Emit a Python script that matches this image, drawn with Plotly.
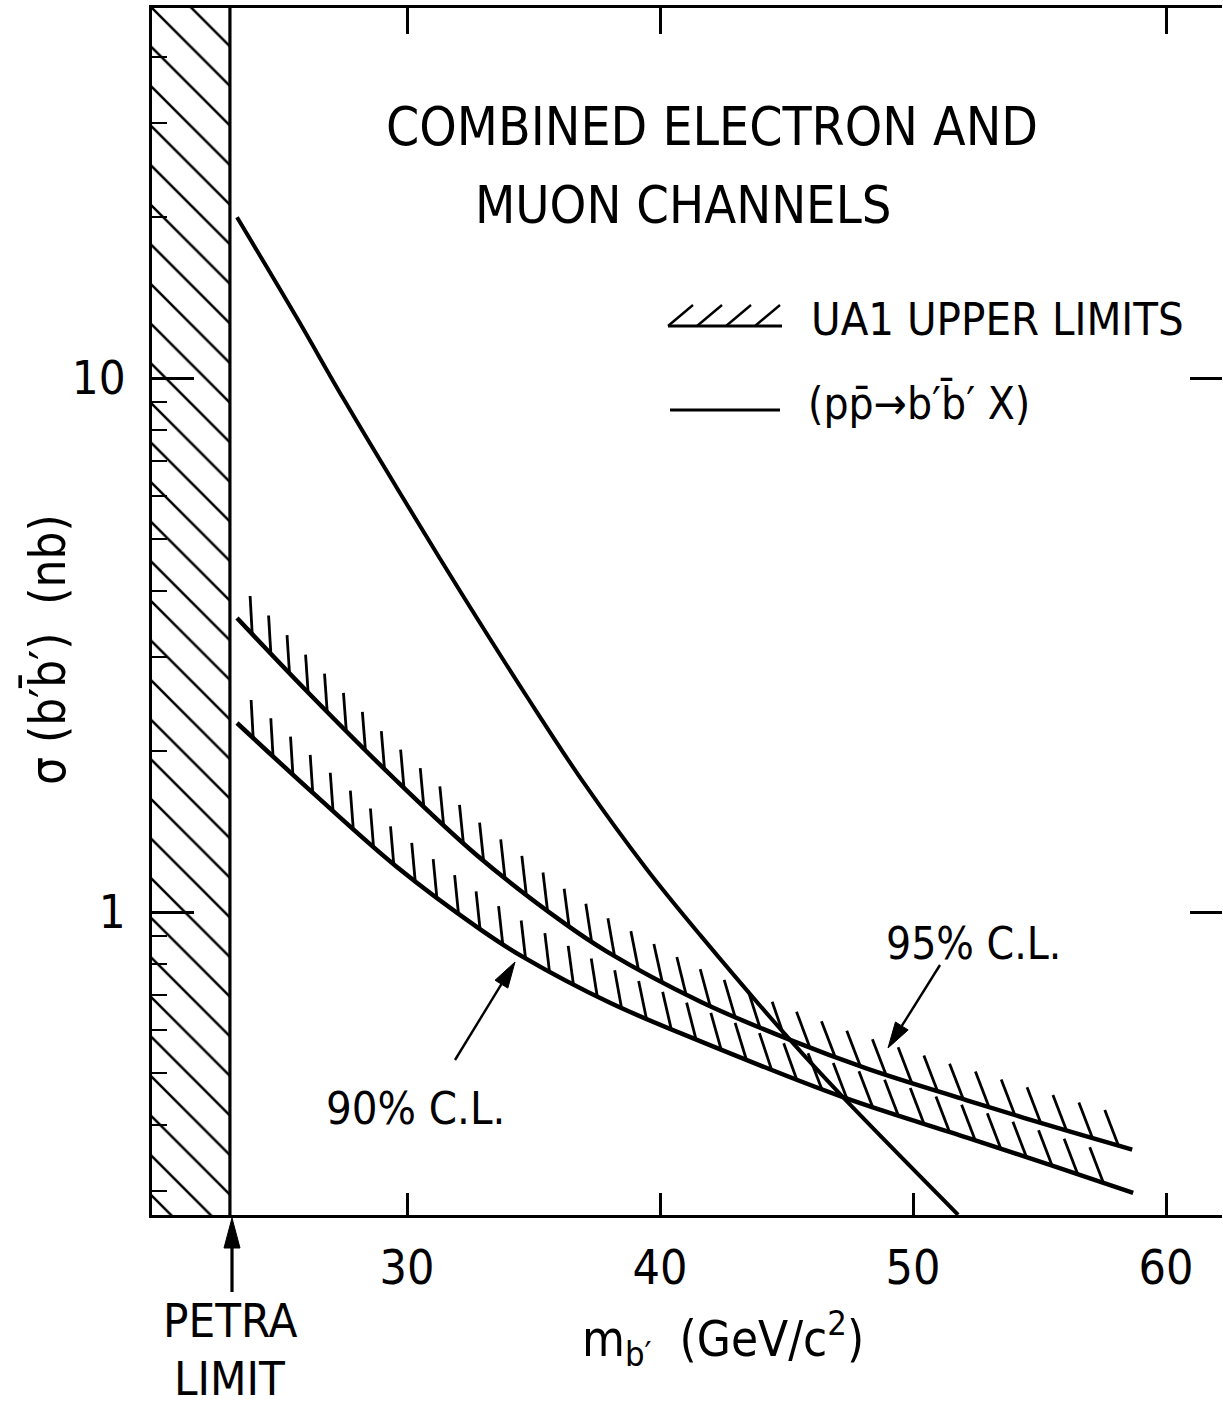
import numpy as np
import plotly.graph_objects as go

# ---------------- data ----------------
mass_theory = [23.28, 25.65, 27.47, 29.72, 32.21, 34.74, 36.96, 39.49, 41.58, 45.14, 47.23, 51.78]
sigma_theory = [20.0, 12.95, 9.17, 6.09, 3.91, 2.53, 1.752, 1.20, 0.906, 0.576, 0.450, 0.271]

mass_95 = [23.28, 26.05, 29.45, 32.77, 36.17, 37.90, 41.58, 45.14, 48.18, 52.13, 55.41, 58.66]
sigma_95 = [3.553, 2.588, 1.786, 1.276, 0.956, 0.843, 0.680, 0.576, 0.509, 0.444, 0.398, 0.359]

mass_90 = [23.28, 26.28, 29.60, 32.88, 34.58, 38.02, 41.58, 47.23, 52.13, 55.41, 58.70]
sigma_90 = [2.259, 1.671, 1.214, 0.929, 0.824, 0.676, 0.573, 0.450, 0.378, 0.336, 0.298]

petra_limit = 23.0
x_ticks = [30, 40, 50, 60]
x_ticks_top = [30, 40, 60]
y_ticks = [1, 10]

# ---------------- layout geometry ----------------
W, H = 1223, 1414
PL, PR, PT, PB = 152, 1222, 8, 1215
XR = [19.92, 62.21]
YR = [-0.5674, 1.6929]
PXU = (PR - PL) / (XR[1] - XR[0])
PXD = (PB - PT) / (YR[1] - YR[0])
FONT = "DejaVu Sans Condensed, Liberation Sans Narrow, DejaVu Sans, sans-serif"


def to_px(m, s):
    return PL + (np.asarray(m) - XR[0]) * PXU, PB - (np.log10(s) - YR[0]) * PXD


def from_px(px, py):
    return XR[0] + (px - PL) / PXU, 10 ** (YR[0] + (PB - py) / PXD)


def paper(px, py):
    return (px - PL) / (PR - PL), (PB - py) / (PB - PT)


def hatches(ms, ss, spacing=27.0, length=38.0, start=22.0, trim=6.0):
    m = np.linspace(ms[0], ms[-1], 3000)
    ls = np.interp(m, ms, np.log10(ss))
    px, py = to_px(m, 10 ** ls)
    arc = np.concatenate([[0], np.cumsum(np.hypot(np.diff(px), np.diff(py)))])
    xs, ys = [], []
    for t in np.arange(start, arc[-1] - trim, spacing):
        x0 = np.interp(t, arc, px)
        y0 = np.interp(t, arc, py)
        lean = np.radians(np.interp(x0, [240, 560, 820], [3, 7, 21]))
        x1 = x0 - length * np.sin(lean)
        y1 = y0 - length * np.cos(lean)
        a = from_px(x0, y0)
        b = from_px(x1, y1)
        xs += [a[0], b[0], None]
        ys += [a[1], b[1], None]
    return xs, ys


ymin, ymax = 10 ** YR[0], 10 ** YR[1]

fig = go.Figure()

# PETRA excluded region
fig.add_trace(go.Scatter(
    x=[XR[0] - 1, petra_limit, petra_limit, XR[0] - 1, XR[0] - 1],
    y=[ymin * 0.8, ymin * 0.8, ymax * 1.2, ymax * 1.2, ymin * 0.8],
    fill="toself", mode="lines", line=dict(width=0, color="black"),
    fillcolor="white",
    fillpattern=dict(shape="\\", size=28, solidity=0.09, fgcolor="black", bgcolor="white",
                     fgopacity=1),
    hoverinfo="skip", showlegend=False))
fig.add_trace(go.Scatter(x=[petra_limit, petra_limit], y=[ymin, ymax], mode="lines",
                         line=dict(color="black", width=3.2), showlegend=False))

# hatch ticks on limit curves
for ms, ss in [(mass_95, sigma_95), (mass_90, sigma_90)]:
    hx, hy = hatches(ms, ss)
    fig.add_trace(go.Scatter(x=hx, y=hy, mode="lines", line=dict(color="black", width=2.8),
                             showlegend=False, hoverinfo="skip"))

# limit curves
for ms, ss in [(mass_95, sigma_95), (mass_90, sigma_90)]:
    fig.add_trace(go.Scatter(x=ms, y=ss, mode="lines",
                             line=dict(color="black", width=4.5, shape="spline", smoothing=1.0),
                             showlegend=False))

# theory curve
fig.add_trace(go.Scatter(x=mass_theory, y=sigma_theory, mode="lines",
                         line=dict(color="black", width=4, shape="spline", smoothing=1.0),
                         showlegend=False))

# dummy traces for extra tick axes
fig.add_trace(go.Scatter(x=[XR[0]], y=[ymin], xaxis="x2", yaxis="y2", mode="markers",
                         marker=dict(opacity=0), showlegend=False, hoverinfo="skip"))

axis_common = dict(showgrid=False, zeroline=False, color="black", linecolor="black", linewidth=3)

fig.update_layout(
    width=W, height=H,
    margin=dict(l=PL, r=W - PR, t=PT, b=H - PB),
    paper_bgcolor="white", plot_bgcolor="white",
    font=dict(family=FONT, color="black"),
    xaxis=dict(range=XR, tickvals=x_ticks, ticks="inside", ticklen=22, tickwidth=3,
               mirror=True, showline=True, tickfont=dict(size=48, family=FONT),
               ticklabelstandoff=8, **axis_common),
    xaxis2=dict(range=XR, overlaying="x", side="top", tickvals=x_ticks_top, ticks="inside",
                ticklen=26, tickwidth=3, showticklabels=False, showline=False,
                showgrid=False, zeroline=False, color="black"),
    yaxis=dict(type="log", range=YR, dtick=1, ticks="inside", ticklen=42, tickwidth=3,
               minor=dict(dtick="D1", ticks="inside", ticklen=15, tickwidth=2, tickcolor="black"),
               mirror=False, showline=True, tickfont=dict(size=47, family=FONT),
               ticklabelstandoff=14, **axis_common),
    yaxis2=dict(type="log", range=YR, overlaying="y", side="right", tickvals=y_ticks,
                ticks="inside", ticklen=32, tickwidth=3, showticklabels=False,
                showline=False, showgrid=False, zeroline=False, color="black"),
)

ann = []
shapes = []


def text(px, py, s, size, xanchor="center", angle=0):
    x, y = paper(px, py)
    ann.append(dict(x=x, y=y, xref="paper", yref="paper", text=s, showarrow=False,
                    xanchor=xanchor, yanchor="middle", textangle=angle,
                    font=dict(size=size, family=FONT, color="black")))


def seg(px0, py0, px1, py1, width):
    a = paper(px0, py0)
    b = paper(px1, py1)
    shapes.append(dict(type="line", xref="paper", yref="paper", x0=a[0], y0=a[1],
                       x1=b[0], y1=b[1], line=dict(color="black", width=width)))


def arrow(hx, hy, tx, ty, head_len=26, head_w=15, width=2.4):
    d = np.array([tx - hx, ty - hy], dtype=float)
    d /= np.hypot(*d)
    nrm = np.array([-d[1], d[0]])
    base = np.array([hx, hy]) + d * head_len
    seg(base[0], base[1], tx, ty, width)
    p1 = paper(hx, hy)
    p2 = paper(*(base + nrm * head_w / 2))
    p3 = paper(*(base - nrm * head_w / 2))
    path = f"M {p1[0]},{p1[1]} L {p2[0]},{p2[1]} L {p3[0]},{p3[1]} Z"
    shapes.append(dict(type="path", xref="paper", yref="paper", path=path,
                       fillcolor="black", line=dict(color="black", width=1)))


text(712, 127, "COMBINED ELECTRON AND", 53)
text(683, 205, "MUON CHANNELS", 52)
text(809, 320, "UA1 UPPER LIMITS", 45, xanchor="left")
text(806, 403, "(pp\u0304\u2192b\u2032b\u0304\u2032 X)", 44, xanchor="left")
text(973, 943, "95% C.L.", 44)
text(415, 1108, "90% C.L.", 45)
text(723, 1338, "m<sub>b\u2032</sub>  (GeV/c<sup>2</sup>)", 49)
text(230, 1320, "PETRA", 47)
text(229, 1378, "LIMIT", 47)
text(47, 650, "\u03c3 (b\u2032b\u0304\u2032)  (nb)", 49, angle=-90)

arrow(515, 962, 455, 1060)
arrow(888, 1048, 940, 965)
arrow(232, 1218, 232, 1292, head_len=30, head_w=16, width=3.2)

# legend glyphs
seg(670, 410, 780, 410, 2.8)
seg(668, 326, 782, 326, 2.8)
for sx in [668, 697, 726, 755]:
    seg(sx, 326, sx + 25, 305, 2.4)

fig.update_layout(annotations=ann, shapes=shapes)

fig.write_html("out.html")
